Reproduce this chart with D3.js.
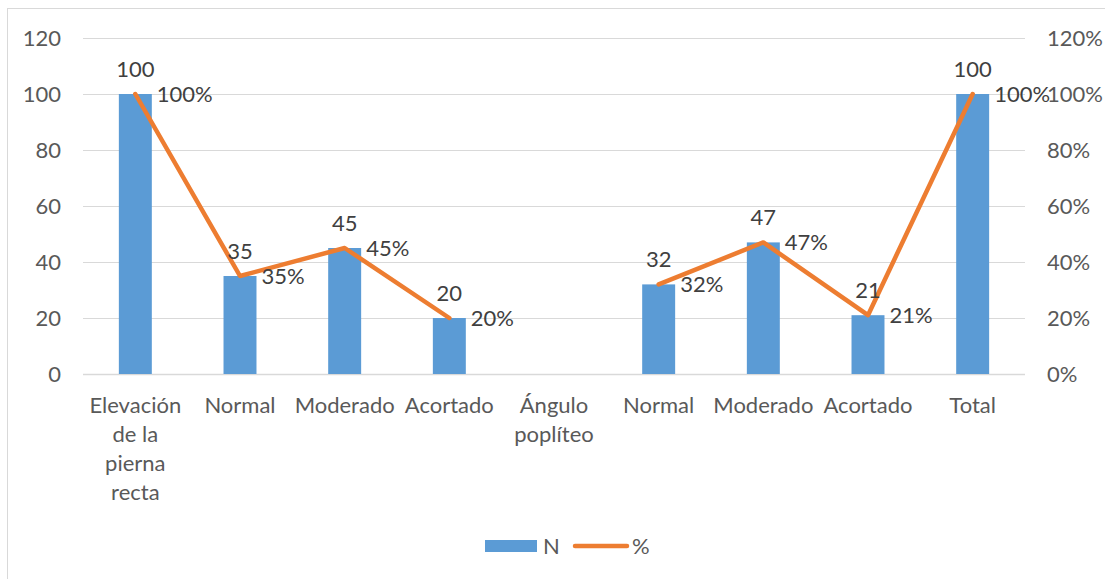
<!DOCTYPE html>
<html>
<head>
<meta charset="utf-8">
<script src="https://cdn.jsdelivr.net/npm/d3@7"></script>
<style>
  html, body { margin: 0; padding: 0; background: #fff; }
  svg { display: block; font-family: Lato, "Open Sans", sans-serif; }
</style>
</head>
<body>
<svg id="chart" width="1105" height="579"></svg>
<script>
// Categories along the x axis
const categories = [
  "Elevación de la pierna recta", "Normal", "Moderado", "Acortado",
  "Ángulo poplíteo", "Normal", "Moderado", "Acortado", "Total"
];
// Counts (N) — null where the group heading has no bar
const nValues = [100, 35, 45, 20, null, 32, 47, 21, 100];
// Percentages (%) — null breaks the line
const pctValues = [100, 35, 45, 20, null, 32, 47, 21, 100];
// Tick values for both axes
const leftTicks = [0, 20, 40, 60, 80, 100, 120];
const rightTicks = [0, 20, 40, 60, 80, 100, 120];

const svg = d3.select("#chart");
const W = 1105, H = 579;
const plot = { left: 83, right: 1025, top: 38, bottom: 374 };

const colorBar = "#5B9BD5";
const colorLine = "#ED7D31";
const gridColor = "#D9D9D9";
const axisText = "#595959";
const labelText = "#404040";
const fontSize = 22;

// outer chart frame
svg.append("rect")
  .attr("x", 7.5).attr("y", 8.5)
  .attr("width", W + 20).attr("height", H + 20)
  .attr("fill", "none").attr("stroke", gridColor).attr("stroke-width", 1);

const idx = categories.map((d, i) => i);
const x = d3.scaleBand().domain(idx).range([plot.left, plot.right]).paddingInner(0).paddingOuter(0);
const yL = d3.scaleLinear().domain([0, 120]).range([plot.bottom, plot.top]);
const yR = d3.scaleLinear().domain([0, 120]).range([plot.bottom, plot.top]);
const barW = x.bandwidth() * 0.315;
const cx = i => x(i) + x.bandwidth() / 2;

// gridlines
svg.append("g").selectAll("line").data(leftTicks).join("line")
  .attr("x1", plot.left).attr("x2", plot.right)
  .attr("y1", d => Math.round(yL(d)) + 0.5).attr("y2", d => Math.round(yL(d)) + 0.5)
  .attr("stroke", gridColor).attr("stroke-width", d => d === 0 ? 1.5 : 1);

// left axis labels
const leftAxis = d3.axisLeft(yL).tickValues(leftTicks).tickSize(0).tickPadding(0);
const gL = svg.append("g").attr("transform", `translate(61,0)`).call(leftAxis);
gL.select(".domain").remove();
gL.selectAll("text").attr("font-size", fontSize).attr("fill", axisText)
  .attr("font-family", "Lato, sans-serif").attr("dy", "0.35em");

// right axis labels
const rightAxis = d3.axisRight(yR).tickValues(rightTicks).tickSize(0).tickPadding(0)
  .tickFormat(d => d + "%");
const gR = svg.append("g").attr("transform", `translate(1047,0)`).call(rightAxis);
gR.select(".domain").remove();
gR.selectAll("text").attr("font-size", fontSize).attr("fill", axisText)
  .attr("font-family", "Lato, sans-serif").attr("dy", "0.35em");

// bars
svg.append("g").selectAll("rect").data(idx.filter(i => nValues[i] != null)).join("rect")
  .attr("x", i => cx(i) - barW / 2)
  .attr("width", barW)
  .attr("y", i => yL(nValues[i]))
  .attr("height", i => yL(0) - yL(nValues[i]))
  .attr("fill", colorBar);

// percentage line
const line = d3.line()
  .defined(i => pctValues[i] != null)
  .x(i => cx(i))
  .y(i => yR(pctValues[i]));
svg.append("path").datum(idx)
  .attr("d", line)
  .attr("fill", "none").attr("stroke", colorLine).attr("stroke-width", 4.5)
  .attr("stroke-linejoin", "round").attr("stroke-linecap", "round");

// bar value labels
svg.append("g").selectAll("text").data(idx.filter(i => nValues[i] != null)).join("text")
  .attr("x", i => cx(i))
  .attr("y", i => yL(nValues[i]) - 17)
  .attr("text-anchor", "middle")
  .attr("font-size", fontSize).attr("fill", labelText)
  .text(i => nValues[i]);

// percentage labels
svg.append("g").selectAll("text").data(idx.filter(i => pctValues[i] != null)).join("text")
  .attr("x", i => cx(i) + barW / 2 + 5)
  .attr("y", i => yR(pctValues[i]))
  .attr("dy", "0.35em")
  .attr("font-size", fontSize).attr("fill", labelText)
  .text(i => pctValues[i] + "%");

// category labels, wrapped to the band width
const measure = svg.append("text").attr("font-size", fontSize).attr("visibility", "hidden");
function wrap(label, maxW) {
  const words = label.split(" ");
  const lines = [];
  let cur = "";
  words.forEach(w => {
    const t = cur ? cur + " " + w : w;
    measure.text(t);
    if (cur && measure.node().getComputedTextLength() > maxW) {
      lines.push(cur); cur = w;
    } else cur = t;
  });
  if (cur) lines.push(cur);
  return lines;
}
const gx = svg.append("g");
idx.forEach(i => {
  const lines = wrap(categories[i], x.bandwidth() - 4);
  const t = gx.append("text")
    .attr("x", cx(i)).attr("y", 405)
    .attr("text-anchor", "middle")
    .attr("font-size", fontSize).attr("fill", axisText)
    .attr("dy", "0.35em");
  lines.forEach((l, k) => {
    t.append("tspan").attr("x", cx(i)).attr("dy", k === 0 ? "0.35em" : 29).text(l);
  });
  t.attr("dy", null);
});
measure.remove();

// legend
const lg = svg.append("g");
lg.append("rect").attr("x", 485).attr("y", 540).attr("width", 52).attr("height", 12).attr("fill", colorBar);
lg.append("text").attr("x", 543).attr("y", 546).attr("dy", "0.35em")
  .attr("font-size", fontSize).attr("fill", axisText).text("N");
lg.append("line").attr("x1", 575).attr("x2", 627).attr("y1", 546).attr("y2", 546)
  .attr("stroke", colorLine).attr("stroke-width", 4.5).attr("stroke-linecap", "round");
lg.append("text").attr("x", 632).attr("y", 546).attr("dy", "0.35em")
  .attr("font-size", fontSize).attr("fill", axisText).text("%");
</script>
</body>
</html>
